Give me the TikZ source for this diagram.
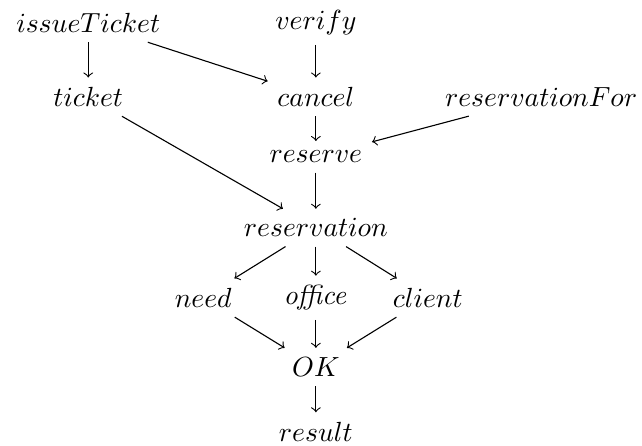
\documentclass[tikz,border=0pt]{standalone}
\begin{document}
\begin{tikzpicture}
\useasboundingbox (0,0) rectangle (8.15,-5.65);
\node (issueTicket) at (1.12,-.29) {$issueTicket$};
\node (verify) at (4.01,-.29) {$verify$};
\node (ticket) at (1.12,-1.23) {$ticket$};
\node (cancel) at (4.01,-1.23) {$cancel$};
\node (reservationFor) at (6.87,-1.23) {$reservationFor$};
\node (reserve) at (4.01,-1.99) {$reserve$};
\node (reservation) at (4.01,-2.89) {$reservation$};
\node (need) at (2.58,-3.78) {$need$};
\node (office) at (4.01,-3.78) {$\mathit{office}$};
\node (client) at (5.43,-3.78) {$client$};
\node (OK) at (4.01,-4.66) {$OK$};
\node (result) at (4.01,-5.48) {$result$};
\draw[->] (issueTicket)--(ticket);
\draw[->] (issueTicket)--(cancel);
\draw[->] (verify)--(cancel);
\draw[->] (cancel)--(reserve);
\draw[->] (reservationFor)--(reserve);
\draw[->] (ticket)--(reservation);
\draw[->] (reserve)--(reservation);
\draw[->] (reservation)--(need);
\draw[->] (reservation)--(office);
\draw[->] (reservation)--(client);
\draw[->] (need)--(OK);
\draw[->] (office)--(OK);
\draw[->] (client)--(OK);
\draw[->] (OK)--(result);
\end{tikzpicture}
\end{document}
